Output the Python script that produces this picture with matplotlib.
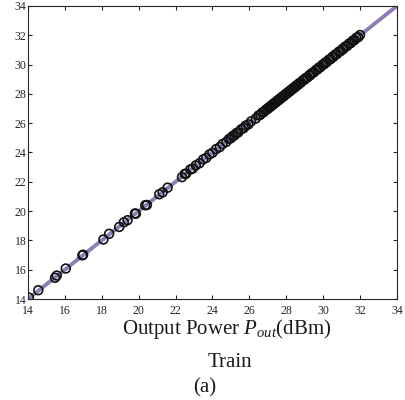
import matplotlib
matplotlib.use("Agg")
import matplotlib.pyplot as plt
import matplotlib.ticker as ticker

measured = [14.05, 14.56, 15.47, 15.56, 16.05, 16.95, 16.99, 18.09, 18.40, 18.95,
            19.20, 19.40, 19.80, 19.85, 20.36, 20.45, 21.12, 21.30, 21.57, 22.35,
            22.50, 22.57, 22.80, 22.93, 23.10, 23.30, 23.50, 23.66, 23.84, 24.00,
            24.20, 24.40, 24.55, 24.75, 24.90, 25.00, 25.10, 25.20, 25.30, 25.40,
            25.55, 25.70, 25.80, 25.95, 26.10, 26.35, 26.50, 26.60, 26.70, 26.80,
            26.90, 27.00, 27.05, 27.15, 27.20, 27.30, 27.35, 27.45, 27.50, 27.60,
            27.65, 27.75, 27.80, 27.90, 27.95, 28.05, 28.10, 28.20, 28.25, 28.35,
            28.40, 28.50, 28.55, 28.65, 28.70, 28.80, 28.90, 29.00, 29.05, 29.15,
            29.25, 29.30, 29.40, 29.50, 29.60, 29.70, 29.75, 29.85, 29.95, 30.05,
            30.10, 30.20, 30.30, 30.40, 30.50, 30.55, 30.65, 30.75, 30.85, 30.95,
            31.05, 31.10, 31.20, 31.30, 31.40, 31.50, 31.60, 31.70, 31.80, 31.90,
            32.00]
modeled = [14.10, 14.60, 15.45, 15.60, 16.08, 16.98, 17.02, 18.06, 18.45, 18.92,
           19.24, 19.38, 19.84, 19.82, 20.40, 20.42, 21.15, 21.28, 21.60, 22.32,
           22.54, 22.55, 22.84, 22.90, 23.12, 23.27, 23.53, 23.63, 23.87, 23.98,
           24.23, 24.37, 24.58, 24.72, 24.93, 24.97, 25.13, 25.17, 25.33, 25.37,
           25.58, 25.67, 25.83, 25.92, 26.13, 26.32, 26.53, 26.57, 26.73, 26.77,
           26.93, 26.97, 27.08, 27.12, 27.23, 27.27, 27.38, 27.42, 27.53, 27.57,
           27.68, 27.72, 27.83, 27.87, 27.98, 28.02, 28.13, 28.17, 28.28, 28.32,
           28.43, 28.47, 28.58, 28.62, 28.73, 28.77, 28.93, 28.97, 29.08, 29.12,
           29.28, 29.27, 29.43, 29.47, 29.63, 29.67, 29.78, 29.82, 29.98, 30.02,
           30.13, 30.17, 30.33, 30.37, 30.53, 30.52, 30.68, 30.72, 30.88, 30.92,
           31.08, 31.07, 31.23, 31.27, 31.43, 31.47, 31.63, 31.67, 31.83, 31.87,
           32.02]
ref_line = [14, 34]
ticks = [14, 16, 18, 20, 22, 24, 26, 28, 30, 32, 34]

plt.rcParams.update({"font.family": ["Liberation Serif", "DejaVu Serif"],
                     "mathtext.fontset": "custom",
                     "mathtext.rm": "Liberation Serif",
                     "mathtext.it": "Liberation Serif:italic"})

fig = plt.figure(figsize=(4.05, 4.0), dpi=100)
ax = fig.add_axes([0.069, 0.2525, 0.911, 0.7325])

ax.plot(ref_line, ref_line, color="#8e7db6", linewidth=2.8, zorder=1)
ax.scatter(measured, modeled, s=40, facecolors="none", edgecolors="#111111",
           linewidths=1.2, zorder=2)

ax.set_xlim(14, 34)
ax.set_ylim(14, 34)
ax.xaxis.set_major_locator(ticker.FixedLocator(ticks))
ax.yaxis.set_major_locator(ticker.FixedLocator(ticks))
ax.tick_params(direction="in", length=3, width=0.8, top=True, right=True,
               labelsize=8.5, colors="#262626", pad=1)
ax.tick_params(axis="x", pad=4.5)
for sp in ax.spines.values():
    sp.set_color("#262626")
    sp.set_linewidth(0.8)

fig.text(0.56, 0.165, r"Output Power $P_{out}$(dBm)", ha="center", va="baseline",
         fontsize=15, color="#1a1a1a")
fig.text(0.568, 0.0825, "Train", ha="center", va="baseline", fontsize=15, color="#1a1a1a")
fig.text(0.506, 0.02, "(a)", ha="center", va="baseline", fontsize=15, color="#1a1a1a")

fig.savefig("out.png", dpi=100)
